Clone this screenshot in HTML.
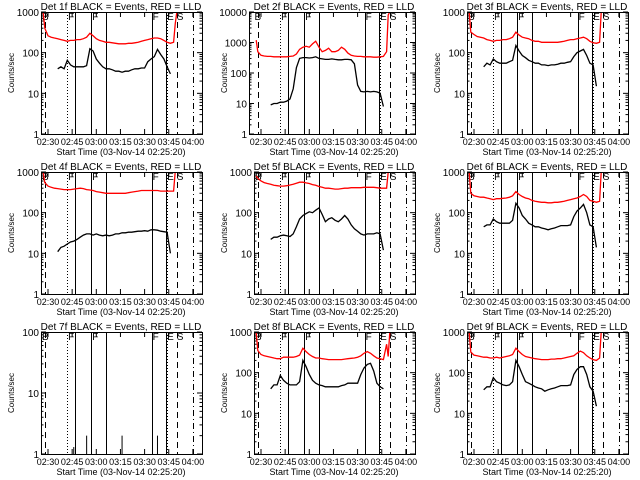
<!DOCTYPE html>
<html><head><meta charset="utf-8"><style>
html,body{margin:0;padding:0;background:#fff}
svg{display:block}
text{font-family:"Liberation Sans",sans-serif;fill:#000}
</style></head><body>
<svg id="chart" width="640" height="480" viewBox="0 0 640 480" xmlns="http://www.w3.org/2000/svg"></svg>
<script>
const T=[-3,-2,0,2,4,6,8,10,12,14,16,18,20,22,24,26,28,30,32,34,36,38,40,42,44,46,48,50,52,54,56,58,60,62,64,66,68,70,72,74,76,78,79,80,81];
const N=null;
const detNames=["1f","2f","3f","4f","5f","6f","7f","8f","9f"];
const yMaxExp=[3,4,3,3,3,3,2,3,3];
const xTickLabels=["02:30","02:45","03:00","03:15","03:30","03:45","04:00"];
const xTickTimes=[0,15,30,45,60,75,90];
const markerTimes=[-1.9,11.8,16.8,26.7,36,64.6,73.3,73.9,80.1,90];
const markerStyles=["dash","dot","solid","solid","solid","solid","solid","dot","dash","dashdot"];
const letterTimes=[-4,12.5,27.5,65,74,80];
const letterText=["B","F","F","F","E","S"];
const red1=[1000,400,260,240,230,220,210,200,190,200,200,210,210,220,240,300,260,220,200,190,180,180,175,170,165,165,165,170,170,175,180,190,200,210,220,230,230,220,200,180,170,180,500,1000,1000];
const black1=[N,N,N,N,N,40,45,40,65,50,45,45,45,45,48,125,110,70,55,45,40,40,38,35,35,33,35,35,38,40,40,42,42,60,70,80,120,90,70,45,30,N,N,N,N];
const red2=[1200,500,380,360,350,350,340,340,340,340,340,350,360,420,600,700,750,700,900,1100,700,500,550,650,500,500,550,700,600,450,380,360,350,350,340,340,340,330,330,340,350,500,8000,10000,12000];
const black2=[N,N,N,N,N,9,10,10,11,11,12,14,30,150,300,320,320,310,320,340,300,290,280,280,290,280,270,270,280,280,270,200,40,25,24,25,24,25,24,22,8,N,N,N,N];
const red3=[1000,320,280,250,240,230,210,200,190,200,200,210,210,220,240,320,270,240,230,220,200,190,190,180,180,180,180,180,180,185,190,200,210,210,220,230,240,220,190,175,170,180,1000,1000,1000];
const black3=[N,N,N,N,N,45,55,50,70,60,55,55,55,60,65,150,110,85,75,65,60,55,55,50,50,48,50,50,52,55,55,58,60,80,100,110,120,85,55,50,15,N,N,N,N];
const red4=[1000,550,450,420,400,390,380,370,370,370,380,390,400,390,370,360,350,330,320,310,300,300,300,300,300,300,300,310,320,330,340,350,350,350,350,350,350,340,340,340,340,340,1000,1000,1000];
const black4=[N,N,N,N,N,11,14,15,17,19,20,22,25,28,30,30,28,30,28,27,28,27,28,30,30,32,32,33,33,34,35,35,36,35,38,38,37,35,34,33,10,N,N,N,N];
const red5=[800,700,600,550,520,500,470,460,450,450,460,480,500,530,560,560,540,520,490,470,440,420,400,400,390,380,380,390,400,400,410,410,410,410,420,420,420,420,410,400,400,400,1000,1000,1000];
const black5=[N,N,N,N,N,22,25,25,27,28,27,26,30,45,70,85,95,105,100,115,130,90,60,70,75,65,60,70,85,70,50,40,35,30,28,30,30,30,32,30,12,N,N,N,N];
const red6=[1000,300,260,250,240,240,230,220,210,220,220,225,230,240,260,330,280,250,230,220,200,190,185,180,180,175,175,180,180,185,190,200,210,220,230,250,280,250,200,190,180,190,1000,1000,1000];
const black6=[N,N,N,N,N,45,50,50,70,60,55,55,55,55,65,170,130,85,70,55,50,45,45,42,40,38,40,42,45,48,48,48,50,80,110,130,160,100,50,45,14,N,N,N,N];
const black7=[N,N,N,N,N,1,1,1,1,1,1.3,1,1,1,2,1,1,1,1,1,1,1,1,1,1,2,1,1,1,1,1,1,1,1,1,1,2,1,1,1,1,N,N,N,N];
const red7=[N,N,N,N,N,N,N,N,N,N,N,N,N,N,N,N,N,N,N,N,N,N,N,N,N,N,N,N,N,N,N,N,N,N,N,N,N,N,N,N,N,N,N,N,N];
const red8=[1000,350,280,260,250,240,230,220,220,240,240,240,240,250,270,400,330,280,250,230,230,220,215,210,210,210,210,210,215,220,225,230,240,260,300,330,300,260,230,220,210,500,250,1000,1000];
const black8=[N,N,N,N,N,40,50,50,85,65,55,50,50,50,60,200,140,90,65,55,50,48,45,45,45,45,45,48,50,55,55,55,55,90,130,160,170,110,55,45,40,N,N,N,N];
const red9=[1000,320,270,260,250,240,240,230,230,240,230,240,250,260,280,400,330,280,250,240,230,220,215,210,210,210,215,215,220,220,230,240,250,260,300,340,310,260,230,210,200,230,1000,1000,1000];
const black9=[N,N,N,N,N,38,45,45,75,60,55,50,48,50,60,200,140,90,60,55,50,45,42,40,35,38,40,42,45,48,48,48,50,90,120,140,140,90,45,35,15,N,N,N,N];
const redSeries=[red1,red2,red3,red4,red5,red6,red7,red8,red9];
const blackSeries=[black1,black2,black3,black4,black5,black6,black7,black8,black9];

const svg=document.getElementById('chart');
const NS='http://www.w3.org/2000/svg';
function mk(tag,attrs,parent){const e=document.createElementNS(NS,tag);for(const k in attrs)e.setAttribute(k,attrs[k]);parent.appendChild(e);return e;}
const TOP=12,BOT=134,RIGHT=202;
function xOf(t){return 48+t*1.61;}
for(let p=0;p<9;p++){
  const ox=(p%3)*213, oy=Math.floor(p/3)*160;
  const g=mk('g',{transform:`translate(${ox},${oy})`},svg);
  
  
  const e=yMaxExp[p];
  const LEFT=e===4?36:41;
  const yOf=v=>BOT-(Math.log10(Math.max(v,1)))*(BOT-TOP)/e;
  const clip='clip'+p;
  const cp=mk('clipPath',{id:clip},g);mk('rect',{x:LEFT,y:TOP,width:RIGHT-LEFT,height:BOT-TOP},cp);
  // title
  const tt=mk('text',{x:121,y:10,'font-size':10,'text-anchor':'middle'},g);
  tt.textContent=`Det ${detNames[p]} BLACK = Events, RED = LLD`;
  
  
  // y title
  const yt=mk('text',{x:0,y:0,'font-size':8,'text-anchor':'middle',transform:`translate(14,${(TOP+BOT)/2}) rotate(-90)`},g);
  yt.textContent='Counts/sec';
  
  
  // x title
  const xt=mk('text',{x:121,y:155,'font-size':9,'text-anchor':'middle'},g);
  xt.textContent='Start Time (03-Nov-14 02:25:20)';
  
  
  // y ticks
  for(let k=0;k<=e;k++){
    const y=BOT-k*(BOT-TOP)/e;
    mk('line',{x1:LEFT,x2:LEFT+5,y1:y,y2:y,stroke:'#000'},g);
    mk('line',{x1:RIGHT-5,x2:RIGHT,y1:y,y2:y,stroke:'#000'},g);
    const lb=mk('text',{x:LEFT-2,y:y+4,'font-size':10,'text-anchor':'end'},g);
    lb.textContent=String(Math.pow(10,k));
    
    
    if(k<e)for(let m=2;m<10;m++){const ym=BOT-(k+Math.log10(m))*(BOT-TOP)/e;
      mk('line',{x1:LEFT,x2:LEFT+2.5,y1:ym,y2:ym,stroke:'#000'},g);
      mk('line',{x1:RIGHT-2.5,x2:RIGHT,y1:ym,y2:ym,stroke:'#000'},g);}
  }
  // x ticks
  xTickTimes.forEach((t,i)=>{const x=xOf(t);
    mk('line',{x1:x,x2:x,y1:BOT,y2:BOT-5,stroke:'#000'},g);
    mk('line',{x1:x,x2:x,y1:TOP,y2:TOP+5,stroke:'#000'},g);
    const lb=mk('text',{x:x,y:145,'font-size':9,'text-anchor':'middle'},g);
    lb.textContent=xTickLabels[i];
    
    });
  // markers
  markerTimes.forEach((t,i)=>{const x=Math.round(xOf(t))+0.5;
    const st=markerStyles[i];
    const da=st==='dash'?'6,4':st==='dot'?'1,2':st==='dashdot'?'6,3,1,3':'';
    const l=mk('line',{x1:x,x2:x,y1:TOP,y2:BOT,stroke:'#000','stroke-width':1},g);
    if(da)l.setAttribute('stroke-dasharray',da);
    
    });
  letterTimes.forEach((t,i)=>{const lt=mk('text',{x:Math.max(xOf(t),LEFT+1),y:TOP+8,'font-size':10},g);
    lt.textContent=letterText[i];
    
    });
  // series
  function path(arr,color,name){let d='',pen=false;
    for(let i=0;i<T.length;i++){const v=arr[i];if(v===null){pen=false;continue;}
      const x=xOf(T[i]).toFixed(1),y=yOf(v).toFixed(1);
      d+=(pen?'L':'M')+x+','+y;pen=true;}
    if(!d)return;
    const pa=mk('path',{d:d,fill:'none',stroke:color,'stroke-width':1.3,'clip-path':`url(#${clip})`},g);
    
    }
  path(redSeries[p],'#ff0000','lld-series-red');
  if(p===6){
    blackSeries[p].forEach((v,i)=>{if(v===null||v<=1)return;const x=xOf(T[i]);
      const s=mk('line',{x1:x,x2:x,y1:BOT,y2:yOf(v),stroke:'#000'},g);
      
      });
  } else path(blackSeries[p],'#000','events-series-black');
  const box=mk('rect',{x:LEFT+0.5,y:TOP+0.5,width:RIGHT-LEFT,height:BOT-TOP,fill:'none',stroke:'#000'},g);
  
  
}
</script>
</body></html>
